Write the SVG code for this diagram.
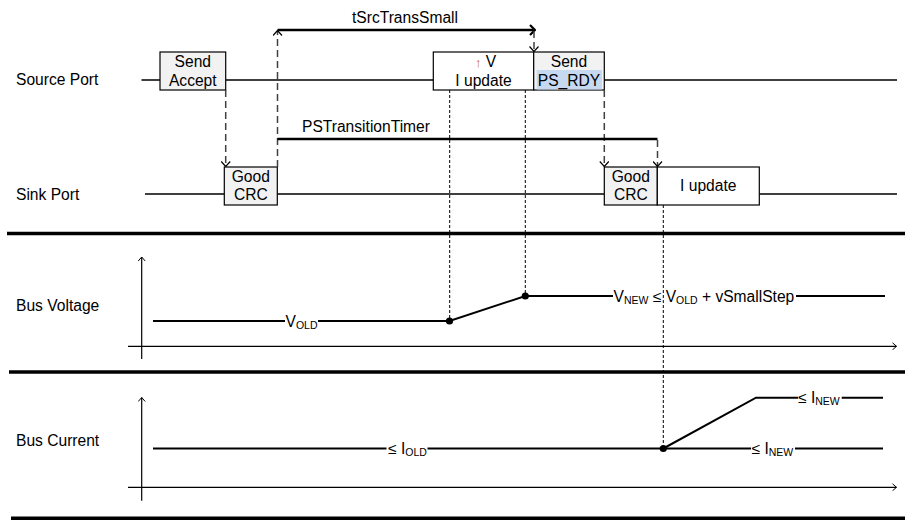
<svg xmlns="http://www.w3.org/2000/svg" width="915" height="529" viewBox="0 0 915 529">
<style>
text{font-family:"Liberation Sans",Arial,sans-serif;fill:#000}
.lbl{font-size:15.6px}
.bt{font-size:15.6px;text-anchor:middle}
.tm{font-size:15.6px}
.sub{font-size:10.5px}
.box{stroke:#000;stroke-width:1.2}
.g{fill:#f2f2f2}
.w{fill:#fff}
.lane{stroke:#000;stroke-width:1.3;fill:none}
.sep{stroke:#000;stroke-width:3.5}
.msg{stroke:#404040;stroke-width:1.5;stroke-dasharray:7,4;fill:none}
.fine{stroke:#000;stroke-width:1;stroke-dasharray:3,2;fill:none}
.timer{stroke:#000;stroke-width:2.5;fill:none}
.axis{stroke:#000;stroke-width:1.2;fill:none}
.sig{stroke:#000;stroke-width:2;fill:none}
</style>
<defs>
<marker id="ah" viewBox="0 0 6 10" refX="5.5" refY="5" markerWidth="6" markerHeight="10" markerUnits="userSpaceOnUse" orient="auto">
<path d="M0.5,0.5 L5.5,5 L0.5,9.5" fill="none" stroke="#000" stroke-width="1.2"/>
</marker>
<marker id="axh" viewBox="0 0 5 8" refX="4.5" refY="4" markerWidth="5" markerHeight="8" markerUnits="userSpaceOnUse" orient="auto">
<path d="M0.5,0.5 L4.5,4 L0.5,7.5" fill="none" stroke="#000" stroke-width="1"/>
</marker>
<marker id="big" viewBox="0 0 7 12" refX="6" refY="6" markerWidth="7" markerHeight="12" markerUnits="userSpaceOnUse" orient="auto">
<path d="M1,1 L6,6 L1,11" fill="none" stroke="#000" stroke-width="2.2"/>
</marker>
</defs>
<rect width="915" height="529" fill="#fff"/>

<g id="labels">
<text class="lbl" x="16" y="85">Source Port</text>
<text class="lbl" x="16" y="200">Sink Port</text>
<text class="lbl" x="16" y="311">Bus Voltage</text>
<text class="lbl" x="16" y="445.5">Bus Current</text>
</g>

<g id="lanes">
<path class="lane" d="M141.5,80 H160 M225.7,80 H433.3 M604.3,80 H897"/>
<path class="lane" d="M145,194 H224.3 M277.3,194 H604.3 M759.3,194 H897"/>
<line class="sep" x1="7" y1="233.5" x2="905" y2="233.5"/>
<line class="sep" x1="9" y1="372" x2="905" y2="372"/>
<line class="sep" x1="11" y1="518.3" x2="905" y2="518.3"/>
</g>

<g id="send-accept">
<rect class="box g" x="160" y="52" width="65.7" height="38"/>
<text class="bt" x="192.8" y="66.5">Send</text>
<text class="bt" x="192.8" y="85.5">Accept</text>
</g>
<g id="good-crc-1">
<rect class="box g" x="224.3" y="167" width="53" height="38"/>
<text class="bt" x="250.8" y="181.5">Good</text>
<text class="bt" x="250.8" y="200">CRC</text>
</g>
<g id="v-i-update">
<rect class="box w" x="433.3" y="52" width="100.4" height="38"/>
<text class="bt" x="485.5" y="66.5"><tspan fill="#c55a11" font-size="13px">↑</tspan> V</text>
<text class="bt" x="483.5" y="85.5">I update</text>
</g>
<g id="send-ps-rdy">
<rect class="box g" x="533.7" y="52" width="70.6" height="38"/>
<rect x="536.7" y="70" width="65.3" height="19.5" fill="#c6d9f1"/>
<text class="bt" x="569" y="66.5">Send</text>
<text class="bt" x="569" y="85.5">PS_RDY</text>
</g>
<g id="good-crc-2">
<rect class="box g" x="604.3" y="167" width="53" height="38"/>
<text class="bt" x="630.8" y="181.5">Good</text>
<text class="bt" x="630.8" y="200">CRC</text>
</g>
<g id="sink-i-update">
<rect class="box w" x="657.3" y="167" width="102" height="38"/>
<text class="bt" x="708.3" y="191">I update</text>
</g>

<g id="connectors">
<line class="msg" x1="225.7" y1="90" x2="225.7" y2="166.5" marker-end="url(#ah)"/>
<line class="msg" x1="277.5" y1="167" x2="277.5" y2="30.5" marker-end="url(#ah)"/>
<line class="timer" x1="277.5" y1="30" x2="535" y2="30" marker-end="url(#big)"/>
<line class="msg" x1="534" y1="31" x2="534" y2="51.5" marker-end="url(#ah)"/>
<line class="msg" x1="604.3" y1="90" x2="604.3" y2="166.5" marker-end="url(#ah)"/>
<path class="timer" d="M277.5,139 H657.5"/>
<line class="msg" x1="657.5" y1="140" x2="657.5" y2="166.5" marker-end="url(#ah)"/>
<line class="fine" x1="449.7" y1="90" x2="449.7" y2="321"/>
<line class="fine" x1="525.3" y1="90" x2="525.3" y2="296"/>
<line class="fine" x1="663.3" y1="205" x2="663.3" y2="448"/>
</g>
<g id="timer-labels">
<text class="tm" x="352" y="23">tSrcTransSmall</text>
<text class="tm" x="302" y="131.5">PSTransitionTimer</text>
</g>

<g id="bus-voltage">
<line class="axis" x1="141.7" y1="359" x2="141.7" y2="257" marker-end="url(#axh)"/>
<line class="axis" x1="128" y1="346.3" x2="896.5" y2="346.3" marker-end="url(#axh)"/>
<path class="sig" d="M153,321 H285 M318,321 H449.5 L525.3,296 H613 M796,296 H885"/>
<circle cx="449.5" cy="321" r="3.6" fill="#000"/>
<circle cx="525.3" cy="296" r="3.6" fill="#000"/>
<text class="lbl" x="285.5" y="326.5">V<tspan class="sub" dy="2">OLD</tspan></text>
<text class="lbl" x="613.5" y="301.5">V<tspan class="sub" dy="2">NEW</tspan><tspan dy="-2"> ≤ V</tspan><tspan class="sub" dy="2">OLD</tspan><tspan dy="-2"> + vSmallStep</tspan></text>
</g>

<g id="bus-current">
<line class="axis" x1="141.7" y1="500.7" x2="141.7" y2="397.5" marker-end="url(#axh)"/>
<line class="axis" x1="128" y1="487.3" x2="896.5" y2="487.3" marker-end="url(#axh)"/>
<path class="sig" d="M153,448.5 H386.5 M427.5,448.5 H751 M795,448.5 H883"/>
<path class="sig" d="M663.3,448.5 L756,397.7 H798 M841.7,397.7 H883"/>
<circle cx="663.3" cy="448.5" r="3.6" fill="#000"/>
<text class="lbl" x="388" y="454">≤ I<tspan class="sub" dy="2">OLD</tspan></text>
<text class="lbl" x="751.5" y="454">≤ I<tspan class="sub" dy="2">NEW</tspan></text>
<text class="lbl" x="798" y="403">≤ I<tspan class="sub" dy="2">NEW</tspan></text>
</g>
</svg>
